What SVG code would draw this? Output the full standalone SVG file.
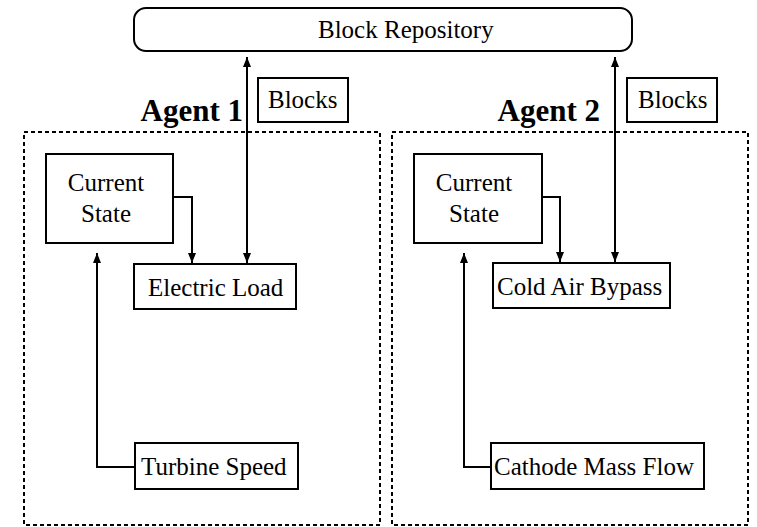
<svg xmlns="http://www.w3.org/2000/svg" width="757" height="527" viewBox="0 0 757 527">
  <style>
    .box { fill: #ffffff; stroke: #000000; stroke-width: 2; }
    .agent { fill: none; stroke: #000000; stroke-width: 2; stroke-dasharray: 4 3; }
    .label { font-family: "Liberation Serif", "Times New Roman", serif; font-size: 25px; fill: #000000; }
    .title { font-family: "Liberation Serif", "Times New Roman", serif; font-size: 31px; font-weight: bold; fill: #000000; }
    .wire { fill: none; stroke: #000000; stroke-width: 2; }
  </style>
  <defs>
    <marker id="arrow" markerWidth="11" markerHeight="10" refX="10" refY="5" orient="auto-start-reverse" markerUnits="userSpaceOnUse">
      <path d="M0,1 L10,5 L0,9 Z" fill="#000000"/>
    </marker>
  </defs>
  <rect width="757" height="527" fill="#ffffff"/>

  <!-- shared repository -->
  <g id="block-repository">
    <rect class="box" x="134" y="8" width="498" height="43" rx="12" ry="12"/>
    <text class="label" x="318" y="38">Block Repository</text>
  </g>

  <!-- agent containers -->
  <g id="agent-1">
    <rect class="agent" x="24" y="132" width="356" height="393"/>
    <text class="title" x="243" y="121" text-anchor="end">Agent 1</text>
  </g>
  <g id="agent-2">
    <rect class="agent" x="392" y="132" width="356" height="393"/>
    <text class="title" x="600" y="121" text-anchor="end">Agent 2</text>
  </g>

  <!-- agent 1 blocks -->
  <g id="blocks-1">
    <rect class="box" x="258" y="78" width="90" height="44"/>
    <text class="label" x="268" y="108">Blocks</text>
  </g>
  <g id="current-state-1">
    <rect class="box" x="46" y="154" width="127" height="89"/>
    <text class="label" x="106" y="191" text-anchor="middle">Current</text>
    <text class="label" x="106" y="222" text-anchor="middle">State</text>
  </g>
  <g id="electric-load">
    <rect class="box" x="134" y="264" width="162" height="45"/>
    <text class="label" x="148" y="296">Electric Load</text>
  </g>
  <g id="turbine-speed">
    <rect class="box" x="135" y="443" width="163" height="46"/>
    <text class="label" x="141" y="475">Turbine Speed</text>
  </g>

  <!-- agent 2 blocks -->
  <g id="blocks-2">
    <rect class="box" x="627" y="78" width="90" height="44"/>
    <text class="label" x="638" y="108">Blocks</text>
  </g>
  <g id="current-state-2">
    <rect class="box" x="414" y="154" width="128" height="89"/>
    <text class="label" x="474" y="191" text-anchor="middle">Current</text>
    <text class="label" x="474" y="222" text-anchor="middle">State</text>
  </g>
  <g id="cold-air-bypass">
    <rect class="box" x="493" y="263" width="177" height="45"/>
    <text class="label" x="497" y="295">Cold Air Bypass</text>
  </g>
  <g id="cathode-mass-flow">
    <rect class="box" x="491" y="443" width="213" height="46"/>
    <text class="label" x="494" y="475">Cathode Mass Flow</text>
  </g>

  <!-- connectors -->
  <g id="connectors">
    <path class="wire" d="M247,57 L247,263" marker-start="url(#arrow)" marker-end="url(#arrow)"/>
    <path class="wire" d="M173,197 L192,197 L192,263" marker-end="url(#arrow)"/>
    <path class="wire" d="M135,467 L97,467 L97,253" marker-end="url(#arrow)"/>
    <path class="wire" d="M615,57 L615,262" marker-start="url(#arrow)" marker-end="url(#arrow)"/>
    <path class="wire" d="M542,197 L560,197 L560,262" marker-end="url(#arrow)"/>
    <path class="wire" d="M491,467 L464,467 L464,253" marker-end="url(#arrow)"/>
  </g>
</svg>
